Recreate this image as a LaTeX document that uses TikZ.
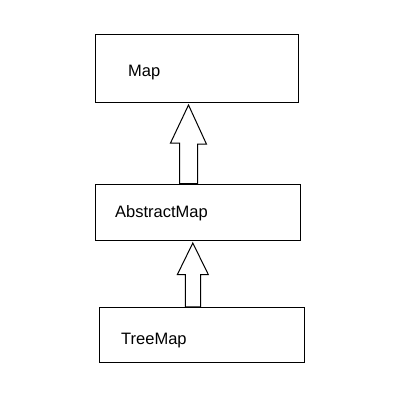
\documentclass[tikz,border=0pt]{standalone}
\usepackage{fontspec}
\setmainfont{Liberation Sans}
\begin{document}
\begin{tikzpicture}[x=1pt,y=-1pt]
\tikzstyle{cls}=[draw,rectangle,line width=1pt,fill=white,inner sep=0pt]
\tikzstyle{lbl}=[anchor=base west,inner sep=0pt,font=\fontsize{16.5}{20}\selectfont]
\tikzstyle{inh}=[draw,line width=1pt,fill=white,line join=miter]
\useasboundingbox (0,0) rectangle (400,409);

% class boxes
\node[cls,minimum width=203pt,minimum height=68pt] (map) at (197.3,68.5) {};
\node[cls,minimum width=205pt,minimum height=56pt] (abstractmap) at (197.8,212.2) {};
\node[cls,minimum width=205pt,minimum height=55pt] (treemap) at (201.7,334.8) {};

% class names
\node[lbl] (maplbl) at (128,76.3) {Map};
\node[lbl] (abstractmaplbl) at (115,217.5) {AbstractMap};
\node[lbl] (treemaplbl) at (121,344.7) {TreeMap};

% inheritance arrows
\coordinate (tipa) at (188.5,105);
\coordinate (tipb) at (192.8,243);
\draw[inh] (tipa) -- ++(-18,38) -- ++(9,0) |- (abstractmap.north -| 197.5,0) -- ++(0,-39.5) -- ++(9,0) -- cycle;
\draw[inh] (tipb) -- ++(-15.5,31.7) -- ++(8,0) |- (treemap.north -| 200.6,0) -- ++(0,-32.3) -- ++(7.7,0) -- cycle;
\end{tikzpicture}
\end{document}
